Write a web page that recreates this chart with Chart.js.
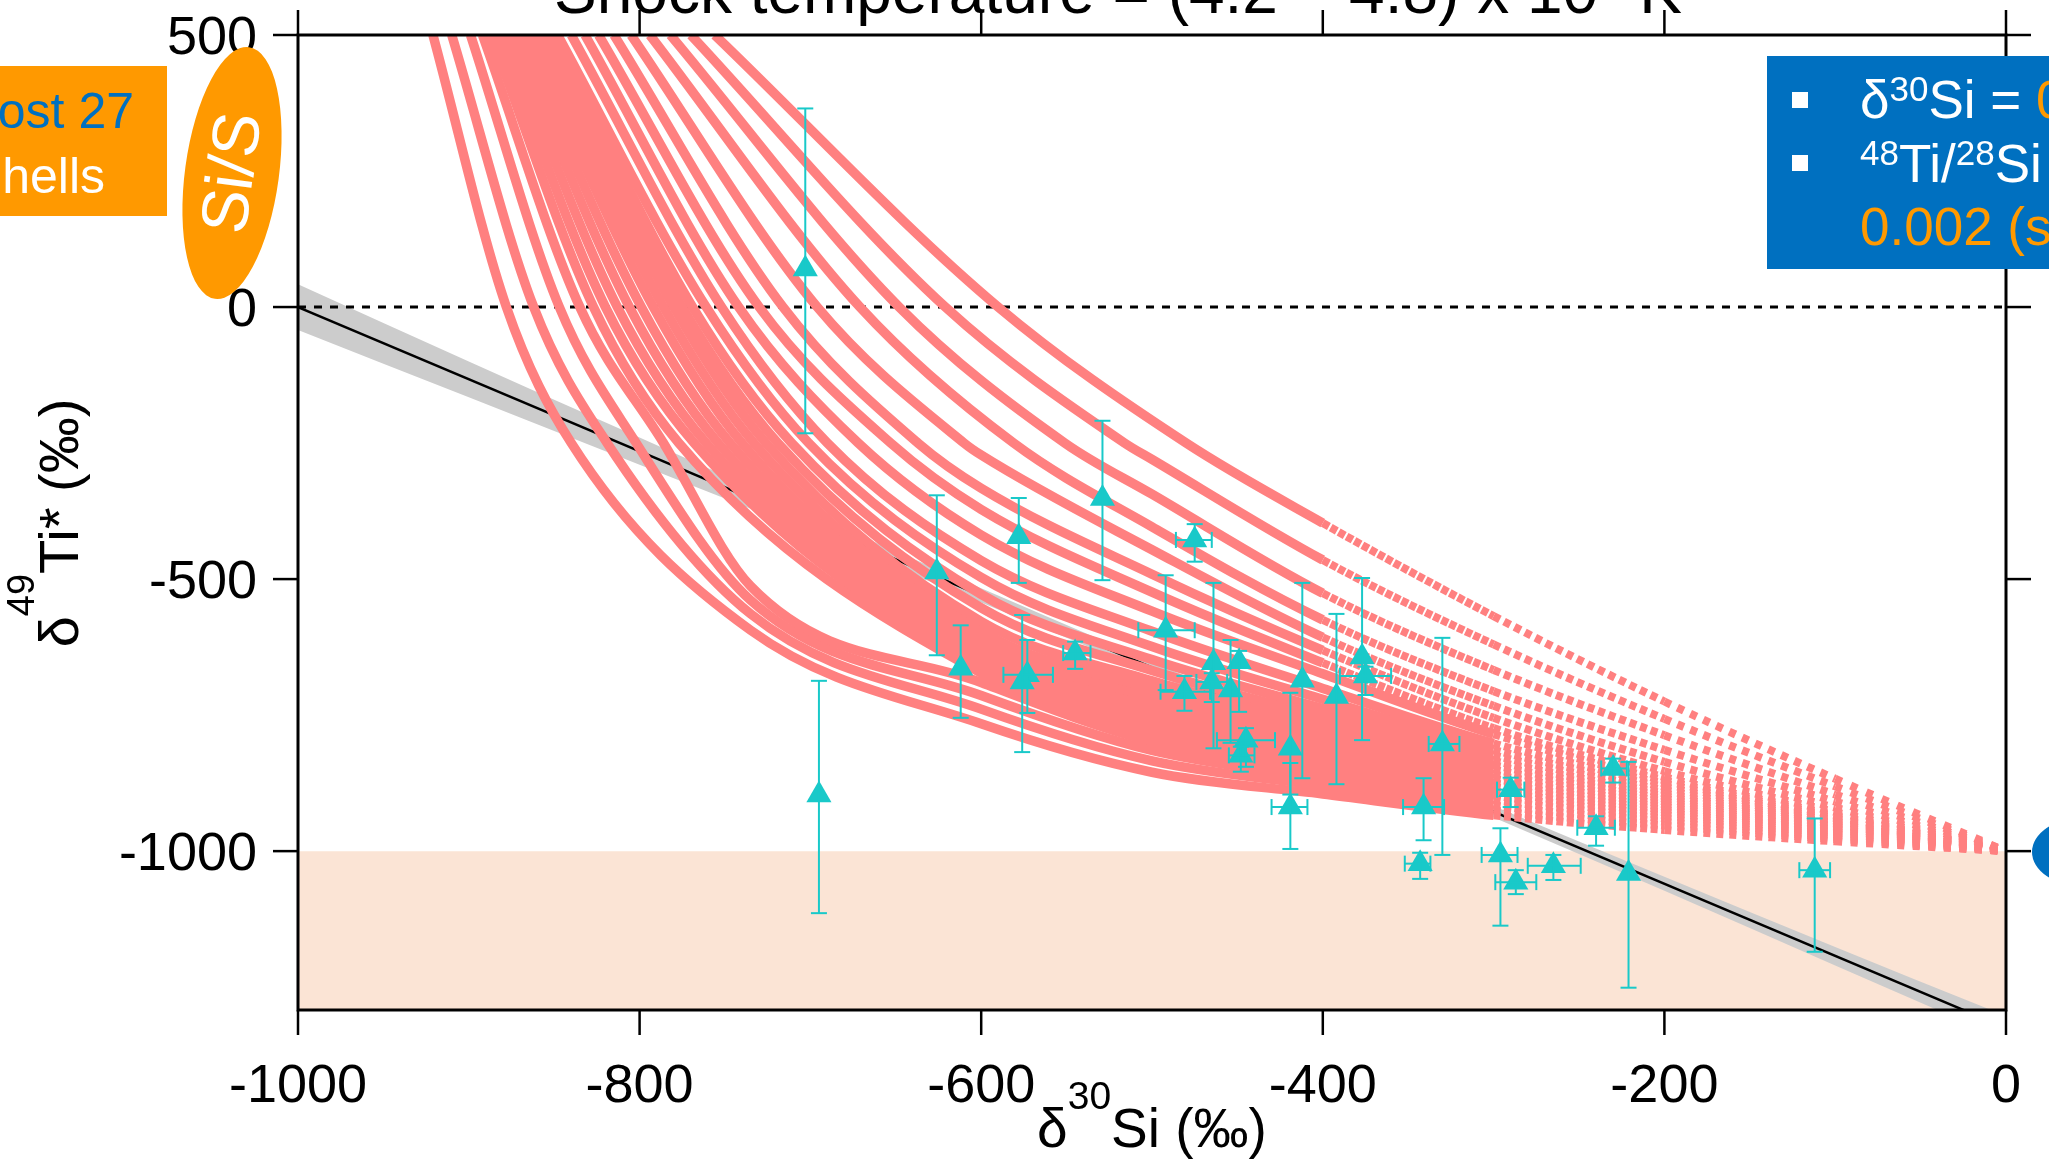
<!DOCTYPE html>
<html>
<head>
<meta charset="utf-8">
<script src="https://cdn.jsdelivr.net/npm/chart.js@4.4.1/dist/chart.umd.min.js"></script>
<style>
  html, body { margin: 0; padding: 0; background: #fff; }
  canvas { display: block; }
</style>
</head>
<body>
<canvas id="chart" width="2049" height="1160"></canvas>
<script>
// axis ticks
const X_TICKS = [-1000, -800, -600, -400, -200, 0];
const Y_TICKS = [500, 0, -500, -1000];

// measured grains: delta30Si, delta49Ti* and their error bar ends
const PT_X = [-703,-626,-578,-529,-475,-612,-573,-576,-545,-492,-481,-464,-465,-454,-449,-445,-448,-419,-419,-412,-392,-377,-375,-330,-341,-343,-695,-290,-296,-287,-265,-240,-230,-221,-112];
const PT_Y = [70,-487,-422,-352,-428,-664,-676,-689,-636,-594,-707,-654,-689,-704,-652,-796,-824,-811,-919,-686,-716,-643,-678,-803,-919,-1023,-897,-887,-1007,-1057,-1027,-957,-848,-1041,-1035];
const ERR_Y_LO = [-232,-640,-507,-502,-468,-755,-746,-818,-665,-704,-742,-811,-726,-801,-744,-845,-854,-896,-996,-866,-877,-796,-713,-1007,-980,-1051,-1114,-919,-1137,-1079,-1053,-990,-874,-1251,-1185];
const ERR_Y_HI = [365,-346,-351,-209,-399,-585,-612,-566,-615,-493,-678,-507,-673,-612,-632,-774,-808,-709,-838,-507,-564,-498,-661,-608,-866,-1003,-687,-865,-958,-1035,-1007,-936,-830,-836,-940];
const ERR_X_LO = [null,null,null,null,-486,null,-587,null,-552,-508,-495,null,-474,null,null,-462,-455,null,-430,null,null,null,-390,-338,-353,-352,null,-298,-307,-299,-280,-251,-237,null,-121];
const ERR_X_HI = [null,null,null,null,-465,null,-558,null,-536,-475,-466,null,-456,null,null,-428,-440,null,-409,null,null,null,-360,-320,-329,-337,null,-282,-286,-275,-249,-229,-222,null,-103];

// model curves (lowest first): x where each crosses y = 500, 0, -250
const CURVE_X_AT_500  = [-921,-910,-899,-892,-887,-883,-879,-875,-871,-867,-863,-859,-855,-851,-848,-840,-832,-824,-815,-805,-794,-782,-770,-756];
const CURVE_X_AT_0    = [-878,-862,-847,-835,-827,-820,-813,-806,-799,-792,-786,-780,-775,-769,-761,-752,-742,-730,-716,-696,-671,-648,-621,-590];
const CURVE_X_AT_M250 = [-840,-819,-802,-786,-777,-768,-761,-754,-747,-740,-733,-726,-719,-711,-701,-690,-672,-653,-637,-610,-581,-551,-516,-480];
// ...and y of each curve at fixed x
const CURVE_Y_AT_M735 = [-594,-564,-539,-513,null,null,null,null,null,null,null,null,null,null,null,null,null,null,null,null,null,null,null,null];
const CURVE_Y_AT_M600 = [-766,-739,-714,-690,-673,-662,-652,-642,-628,-612,-596,-578,-553,-528,-497,-466,-419,-372,-333,-272,null,null,null,null];
const CURVE_Y_AT_M500 = [-855,-834,-815,-799,-786,-774,-761,-750,-734,-718,-702,-687,-668,-648,-624,-596,-559,-524,-491,-446,-404,-344,-280,null];
const CURVE_Y_AT_M400 = [-895,-880,-867,-855,-843,-834,-824,-815,-803,-791,-779,-767,-753,-738,-721,-701,-674,-654,-631,-607,-575,-526,-465,-397];
const CURVE_Y_AT_M300 = [-934,-925,-916,-906,-898,-890,-882,-875,-867,-859,-850,-842,-834,-824,-814,-802,-785,-774,-755,-733,-706,-667,-620,-568];
const CURVE_Y_AT_M200 = [-961,-953,-946,-940,-934,-929,-924,-919,-914,-909,-904,-899,-894,-888,-882,-876,-870,-864,-853,-836,-814,-787,-757,-725];
const CURVE_Y_AT_M100 = [-982,-978,-975,-972,-969,-966,-964,-961,-959,-956,-954,-951,-949,-946,-943,-940,-937,-934,-928,-920,-909,-896,-881,-867];
const CURVE_END = { x: 0, y: -1000 };

// fitted line and its grey error envelope
const FIT_LINE = [{ x: -1000, y: 0 }, { x: 0, y: -1325 }];
const BAND_X  = [-1000, -900, -800, -700, -600, -500, -400, -300, -200, -100, 0];
const BAND_HI = [42, -100, -240, -380, -517, -652, -785, -917, -1047, -1176, -1303];
const BAND_LO = [-42, -166, -290, -415, -543, -673, -805, -938, -1073, -1210, -1347];

const FONT = '"Liberation Sans", Arial, sans-serif';
const PINK = '#FF8080';
const CYAN = '#19C9C9';
const ORANGE = '#FF9900';
const BLUE = '#0070C0';

const fixedX = [
  [-735, CURVE_Y_AT_M735], [-600, CURVE_Y_AT_M600], [-500, CURVE_Y_AT_M500],
  [-400, CURVE_Y_AT_M400], [-300, CURVE_Y_AT_M300], [-200, CURVE_Y_AT_M200], [-100, CURVE_Y_AT_M100]
];

// horizontal spacing (px) of the model's square markers, grows towards x = 0
function markerStep(xv) {
  return 16.8 + xv * 0.0253;
}

const curveSets = CURVE_X_AT_500.map((_, i) => {
  const pts = [
    { x: CURVE_X_AT_500[i], y: 500 },
    { x: CURVE_X_AT_0[i], y: 0 },
    { x: CURVE_X_AT_M250[i], y: -250 }
  ];
  fixedX.forEach(([xv, arr]) => { if (arr[i] != null) pts.push({ x: xv, y: arr[i] }); });
  pts.push(CURVE_END);
  pts.sort((a, b) => a.x - b.x);
  const dashOf = c => {
    const d = c.chart.data.datasets[c.datasetIndex].data;
    const a = d[c.p0DataIndex], b = d[c.p1DataIndex];
    if (a.x < -620) return null;
    const dx = c.p1.x - c.p0.x, dy = c.p1.y - c.p0.y;
    const stretch = Math.hypot(dx, dy) / Math.max(dx, 0.001);
    const gap = markerStep((a.x + b.x) / 2) * stretch - 7;
    return gap < 1.5 ? null : [7, gap];
  };
  return {
    data: pts,
    showLine: true,
    borderColor: PINK,
    borderWidth: 9.5,
    borderCapStyle: 'butt',
    pointRadius: 0,
    cubicInterpolationMode: 'monotone',
    clip: { left: 0, top: 0, right: 8, bottom: 0 },
    order: 5,
    segment: {
      borderWidth: c => (dashOf(c) ? 8 : undefined),
      borderDash: c => dashOf(c) || undefined
    }
  };
});

function drawRich(ctx, parts, x, y, align, size, supSize, raise) {
  let total = 0;
  for (const [t, sup] of parts) {
    ctx.font = (sup ? supSize : size) + 'px ' + FONT;
    total += ctx.measureText(t).width;
  }
  let cx = align === 'center' ? x - total / 2 : align === 'right' ? x - total : x;
  ctx.textAlign = 'left';
  ctx.textBaseline = 'alphabetic';
  for (const [t, sup, color] of parts) {
    ctx.font = (sup ? supSize : size) + 'px ' + FONT;
    ctx.fillStyle = color || '#000';
    ctx.fillText(t, cx, sup ? y - raise : y);
    cx += ctx.measureText(t).width;
  }
}

function seg(ctx, x0, y0, x1, y1) {
  ctx.beginPath(); ctx.moveTo(x0, y0); ctx.lineTo(x1, y1); ctx.stroke();
}

const frame = {
  id: 'frame',
  afterDatasetsDraw(chart) {
    const { ctx, chartArea: a, scales: { x, y } } = chart;
    ctx.save();
    // error bars
    ctx.beginPath(); ctx.rect(a.left, a.top, a.right - a.left, a.bottom - a.top); ctx.clip();
    ctx.strokeStyle = CYAN;
    ctx.lineWidth = 2;
    for (let i = 0; i < PT_X.length; i++) {
      const px = x.getPixelForValue(PT_X[i]), py = y.getPixelForValue(PT_Y[i]);
      const lo = y.getPixelForValue(ERR_Y_LO[i]), hi = y.getPixelForValue(ERR_Y_HI[i]);
      seg(ctx, px, lo, px, hi);
      seg(ctx, px - 8, lo, px + 8, lo);
      seg(ctx, px - 8, hi, px + 8, hi);
      if (ERR_X_LO[i] != null) {
        const l = x.getPixelForValue(ERR_X_LO[i]), r = x.getPixelForValue(ERR_X_HI[i]);
        seg(ctx, l, py, r, py);
        seg(ctx, l, py - 8, l, py + 8);
        seg(ctx, r, py - 8, r, py + 8);
      }
    }
    ctx.restore();

    // frame, ticks, labels
    ctx.save();
    ctx.strokeStyle = '#000';
    ctx.lineWidth = 3;
    ctx.strokeRect(a.left, a.top, a.right - a.left, a.bottom - a.top);
    ctx.lineWidth = 2.5;
    ctx.fillStyle = '#000';
    ctx.font = '54px ' + FONT;
    X_TICKS.forEach(v => {
      const px = x.getPixelForValue(v);
      seg(ctx, px, a.bottom, px, a.bottom + 25);
      seg(ctx, px, a.top, px, a.top - 25);
      ctx.textAlign = 'center';
      ctx.textBaseline = 'alphabetic';
      ctx.fillText(String(v), px, 1102);
    });
    Y_TICKS.forEach(v => {
      const py = y.getPixelForValue(v);
      seg(ctx, a.left - 25, py, a.left, py);
      seg(ctx, a.right, py, a.right + 25, py);
      ctx.textAlign = 'right';
      ctx.textBaseline = 'alphabetic';
      ctx.fillText(String(v), 257, py + 19);
    });
    // axis titles
    drawRich(ctx, [['δ'], ['30', true], ['Si (‰)']], 1152, 1147, 'center', 55, 39, 38);
    ctx.translate(78, 523);
    ctx.rotate(-Math.PI / 2);
    drawRich(ctx, [['δ'], ['49', true], ['Ti* (‰)']], 0, 0, 'center', 56, 38, 44);
    ctx.restore();
  },
  afterDraw(chart) {
    const { ctx } = chart;
    ctx.save();
    // title, cut by the top edge
    drawRich(ctx, [['Shock temperature = (4.2 – 4.8) x 10'], ['9', true], [' K']], 554, 13, 'left', 64, 42, 30);

    // orange note box on the left
    ctx.fillStyle = ORANGE;
    ctx.fillRect(0, 66, 167, 150);
    ctx.textBaseline = 'alphabetic';
    ctx.textAlign = 'right';
    ctx.font = '50px ' + FONT;
    ctx.fillStyle = BLUE;
    ctx.fillText('ost 27', 134, 128);
    ctx.fillStyle = '#fff';
    ctx.fillText('hells', 105, 193);

    // Si/S zone ellipse
    const tilt = 7.7 * Math.PI / 180;
    ctx.fillStyle = ORANGE;
    ctx.beginPath();
    ctx.ellipse(232, 173, 47, 127, tilt, 0, Math.PI * 2);
    ctx.fill();
    ctx.save();
    ctx.translate(232, 173);
    ctx.rotate(-Math.PI / 2 + tilt);
    ctx.fillStyle = '#fff';
    ctx.font = '66px ' + FONT;
    ctx.textAlign = 'center';
    ctx.textBaseline = 'middle';
    ctx.fillText('Si/S', 0, 3);
    ctx.restore();

    // blue marker on the right axis
    ctx.fillStyle = BLUE;
    ctx.beginPath();
    ctx.ellipse(2082, 852, 50, 34, 0, 0, Math.PI * 2);
    ctx.fill();

    // legend box, top right
    ctx.fillStyle = BLUE;
    ctx.fillRect(1767, 56, 290, 213);
    ctx.fillStyle = '#fff';
    ctx.fillRect(1792, 92, 16, 16);
    ctx.fillRect(1792, 155, 16, 16);
    drawRich(ctx, [['δ', false, '#fff'], ['30', true, '#fff'], ['Si = ', false, '#fff'], ['0', false, ORANGE]], 1860, 118, 'left', 53, 35, 17);
    drawRich(ctx, [['48', true, '#fff'], ['Ti/', false, '#fff'], ['28', true, '#fff'], ['Si', false, '#fff']], 1860, 182, 'left', 53, 35, 17);
    drawRich(ctx, [['0.002 (s', false, ORANGE]], 1860, 245, 'left', 53, 35, 17);
    ctx.restore();
  }
};

new Chart(document.getElementById('chart'), {
  type: 'scatter',
  data: {
    datasets: [
      {
        data: PT_X.map((v, i) => ({ x: v, y: PT_Y[i] })),
        pointStyle: 'triangle',
        pointRadius: 14.5,
        backgroundColor: CYAN,
        borderWidth: 0,
        order: 0
      },
      ...curveSets,
      {
        data: [{ x: -1000, y: 0 }, { x: 0, y: 0 }],
        showLine: true, pointRadius: 0,
        borderColor: '#000', borderWidth: 3, borderDash: [8, 8],
        order: 6
      },
      {
        data: FIT_LINE,
        showLine: true, pointRadius: 0,
        borderColor: '#000', borderWidth: 2.5,
        clip: 0,
        order: 7
      },
      {
        data: BAND_X.map((v, i) => ({ x: v, y: BAND_HI[i] })),
        showLine: true, pointRadius: 0,
        borderColor: 'rgba(0,0,0,0)', borderWidth: 1,
        cubicInterpolationMode: 'monotone',
        order: 9
      },
      {
        data: BAND_X.map((v, i) => ({ x: v, y: BAND_LO[i] })),
        showLine: true, pointRadius: 0,
        borderColor: 'rgba(0,0,0,0)', borderWidth: 1,
        cubicInterpolationMode: 'monotone',
        fill: '-1',
        backgroundColor: '#CCCCCC',
        order: 8
      },
      {
        data: [{ x: -1000, y: -1000 }, { x: 0, y: -1000 }],
        showLine: true, pointRadius: 0,
        borderColor: 'rgba(0,0,0,0)', borderWidth: 1,
        fill: 'start',
        backgroundColor: '#FBE4D5',
        order: 10
      }
    ]
  },
  options: {
    responsive: false,
    animation: false,
    devicePixelRatio: 1,
    events: [],
    layout: { padding: { left: 298, right: 43, top: 35, bottom: 150 } },
    elements: { line: { capBezierPoints: false } },
    plugins: { legend: { display: false }, tooltip: { enabled: false } },
    scales: {
      x: { type: 'linear', min: -1000, max: 0, display: false },
      y: { type: 'linear', min: -1292, max: 500, display: false }
    }
  },
  plugins: [frame]
});
</script>
</body>
</html>
